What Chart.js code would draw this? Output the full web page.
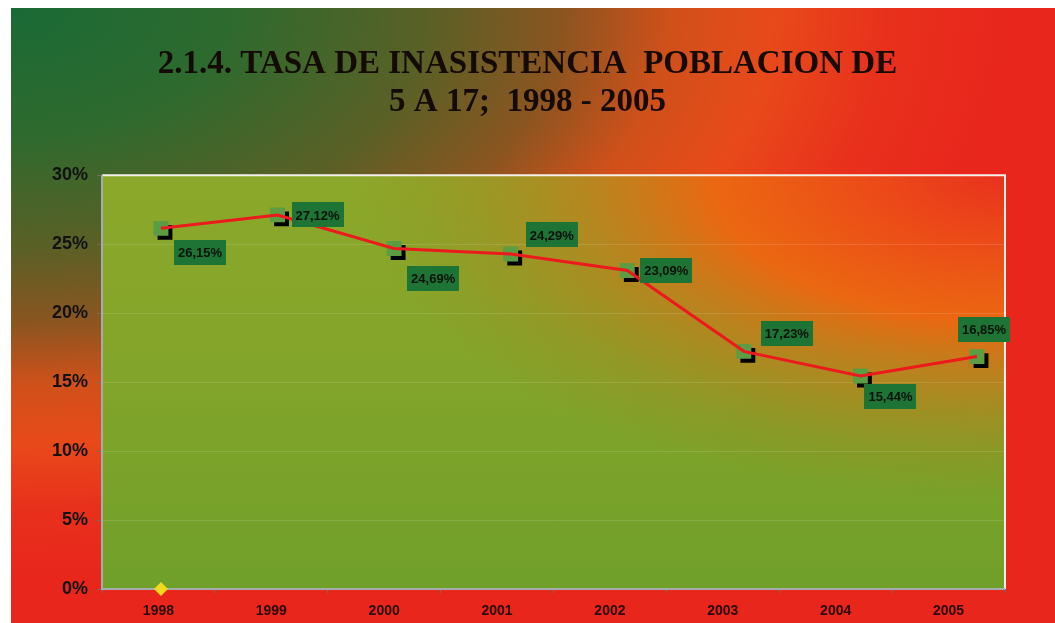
<!DOCTYPE html>
<html>
<head>
<meta charset="utf-8">
<script src="https://cdn.jsdelivr.net/npm/chart.js@4.4.1/dist/chart.umd.min.js"></script>
<style>
html,body{margin:0;padding:0;background:#fff;}
canvas{display:block;}
</style>
</head>
<body>
<canvas id="c" width="1055" height="623"></canvas>
<script>
// ---- data ----
const categories = ['1998','1999','2000','2001','2002','2003','2004','2005'];
const tasaInasistencia = [26.15, 27.12, 24.69, 24.29, 23.09, 17.23, 15.44, 16.85];
const markerSeries = [0];
const yTicks = [0, 5, 10, 15, 20, 25, 30];
const titleLines = ['2.1.4. TASA DE INASISTENCIA  POBLACION DE', '5 A 17;  1998 - 2005'];

// ---- style ----
const labelOffsets = [[39,24],[40,0],[39,30],[41,-19],[39,0],[43,-18],[30,20],[7,-27]];

const fmt = v => v.toFixed(2).replace('.', ',') + '%';

const bgPlugin = {
  id: 'bg',
  beforeDraw(chart) {
    const ctx = chart.ctx, W = chart.width, H = chart.height;
    ctx.save();
    ctx.fillStyle = '#ffffff';
    ctx.fillRect(0, 0, W, H);
    // outer gradient
    ctx.save();
    ctx.beginPath(); ctx.rect(11, 8, W - 11, H - 8); ctx.clip();
    ctx.translate(11, 8);
    ctx.scale(1, 1 / 1.75);
    let g = ctx.createRadialGradient(0, 0, 0, 0, 0, 1000);
    g.addColorStop(0, '#1a6a36');
    g.addColorStop(0.22, '#2e6a2e');
    g.addColorStop(0.42, '#5a6026');
    g.addColorStop(0.55, '#8a5520');
    g.addColorStop(0.66, '#d0501a');
    g.addColorStop(0.76, '#e84a1a');
    g.addColorStop(0.88, '#e8301c');
    g.addColorStop(1, '#e8261c');
    ctx.fillStyle = g;
    ctx.fillRect(-10, -10, W + 20, (H + 20) * 1.8);
    ctx.restore();
    // plot area
    const a = chart.chartArea;
    ctx.save();
    ctx.beginPath(); ctx.rect(a.left, a.top, a.right - a.left, a.bottom - a.top); ctx.clip();
    let lg = ctx.createLinearGradient(0, a.top, 0, a.bottom);
    lg.addColorStop(0, '#8ca82a');
    lg.addColorStop(0.5, '#82a42a');
    lg.addColorStop(1, '#70a02a');
    ctx.fillStyle = lg;
    ctx.fillRect(a.left, a.top, a.right - a.left, a.bottom - a.top);
    ctx.translate(a.right, a.top);
    ctx.scale(1, 1 / 2.0);
    g = ctx.createRadialGradient(0, 0, 0, 0, 0, 650);
    g.addColorStop(0, 'rgba(232,50,30,1)');
    g.addColorStop(0.2, 'rgba(236,74,24,1)');
    g.addColorStop(0.45, 'rgba(240,100,16,0.95)');
    g.addColorStop(0.65, 'rgba(204,118,26,0.65)');
    g.addColorStop(0.85, 'rgba(175,128,30,0.28)');
    g.addColorStop(1, 'rgba(160,130,30,0)');
    ctx.fillStyle = g;
    ctx.fillRect(-1100, -10, 1200, 1000);
    ctx.restore();
    ctx.restore();
  },
  beforeDatasetsDraw(chart) {
    const ctx = chart.ctx, a = chart.chartArea;
    ctx.save();
    ctx.lineWidth = 2;
    ctx.strokeStyle = '#f4f0ea';
    ctx.beginPath();
    ctx.moveTo(a.left, a.top); ctx.lineTo(a.right, a.top); ctx.lineTo(a.right, a.bottom);
    ctx.stroke();
    ctx.strokeStyle = '#a4acb0';
    ctx.beginPath();
    ctx.moveTo(a.left, a.top); ctx.lineTo(a.left, a.bottom); ctx.lineTo(a.right, a.bottom);
    ctx.stroke();
    ctx.restore();
  }
};

const shadowPlugin = {
  id: 'shadow',
  beforeDatasetDraw(chart, args) {
    if (args.index === 1) {
      const ctx = chart.ctx;
      ctx.save();
      ctx.shadowColor = '#000000';
      ctx.shadowOffsetX = 4;
      ctx.shadowOffsetY = 4;
      ctx.shadowBlur = 0;
    }
  },
  afterDatasetDraw(chart, args) {
    if (args.index === 1) chart.ctx.restore();
  }
};

const labelPlugin = {
  id: 'vlabels',
  afterDatasetsDraw(chart) {
    const ctx = chart.ctx;
    const meta = chart.getDatasetMeta(1);
    ctx.save();
    ctx.font = 'bold 13px "Liberation Sans", Arial, sans-serif';
    ctx.textAlign = 'center';
    ctx.textBaseline = 'middle';
    meta.data.forEach((el, i) => {
      const t = fmt(tasaInasistencia[i]);
      const w = ctx.measureText(t).width + 8, h = 25;
      const cx = el.x + labelOffsets[i][0], cy = el.y + labelOffsets[i][1];
      ctx.fillStyle = '#1d7434';
      ctx.fillRect(Math.round(cx - w / 2), Math.round(cy - h / 2), Math.round(w), h);
      ctx.fillStyle = '#0e120c';
      ctx.fillText(t, cx, cy + 1);
    });
    ctx.restore();
  }
};

const linePoints = tasaInasistencia.map((v, i) => ({x: i, y: v}));
const markerPoints = markerSeries.map((v, i) => ({x: i, y: v}));

new Chart(document.getElementById('c'), {
  type: 'line',
  data: {
    labels: categories,
    datasets: [
      {
        label: 'Línea',
        data: linePoints,
        xAxisID: 'xp',
        borderColor: '#ec1a1c',
        borderWidth: 3,
        pointRadius: 0,
        fill: false,
        tension: 0
      },
      {
        label: 'Tasa de inasistencia',
        data: linePoints,
        xAxisID: 'xp',
        showLine: false,
        pointStyle: 'rect',
        pointRadius: 10.5,
        pointBackgroundColor: '#5c9c42',
        pointBorderColor: '#5c9c42',
        pointBorderWidth: 0
      },
      {
        label: 'Marcador',
        data: markerPoints,
        xAxisID: 'xp',
        showLine: false,
        clip: false,
        pointStyle: 'rectRot',
        pointRadius: 7,
        pointBackgroundColor: '#f2d81e',
        pointBorderColor: '#f2d81e',
        pointBorderWidth: 0
      }
    ]
  },
  options: {
    responsive: false,
    animation: false,
    devicePixelRatio: 1,
    layout: { padding: { left: 0, right: 0, top: 0, bottom: 0 } },
    plugins: {
      legend: { display: false },
      tooltip: { enabled: false },
      title: {
        display: true,
        text: titleLines,
        color: '#140a06',
        font: { family: '"Liberation Serif", "DejaVu Serif", serif', size: 33, weight: 'bold', lineHeight: 1.17 },
        padding: { top: 45, bottom: 53 }
      }
    },
    scales: {
      x: {
        type: 'category',
        offset: true,
        grid: { display: true, drawOnChartArea: false, offset: true, tickLength: 4, tickColor: '#7a6a6a' },
        border: { display: false },
        ticks: {
          color: '#2a0a0a',
          font: { family: '"Liberation Sans Narrow", "Liberation Sans", Arial, sans-serif', size: 14, weight: 'bold' },
          padding: 10,
          maxRotation: 0
        },
        afterFit(s) { s.height = 34; }
      },
      xp: {
        type: 'linear',
        display: false,
        min: -0.506,
        max: 7.24
      },
      y: {
        min: 0,
        max: 30,
        afterBuildTicks(s) { s.ticks = yTicks.map(v => ({value: v})); },
        grid: { color: 'rgba(255,255,255,0.12)', lineWidth: 1, tickLength: 5, tickColor: '#7a6a60' },
        border: { display: false },
        ticks: {
          color: '#111',
          font: { family: '"Liberation Sans", Arial, sans-serif', size: 18, weight: 'bold' },
          padding: 9,
          callback: v => v + '%'
        },
        afterFit(s) { s.width = 102; }
      },
      yr: {
        position: 'right',
        min: 0,
        max: 30,
        grid: { display: false },
        border: { display: false },
        ticks: { display: false },
        afterFit(s) { s.width = 50; }
      }
    }
  },
  plugins: [bgPlugin, shadowPlugin, labelPlugin]
});
</script>
</body>
</html>
